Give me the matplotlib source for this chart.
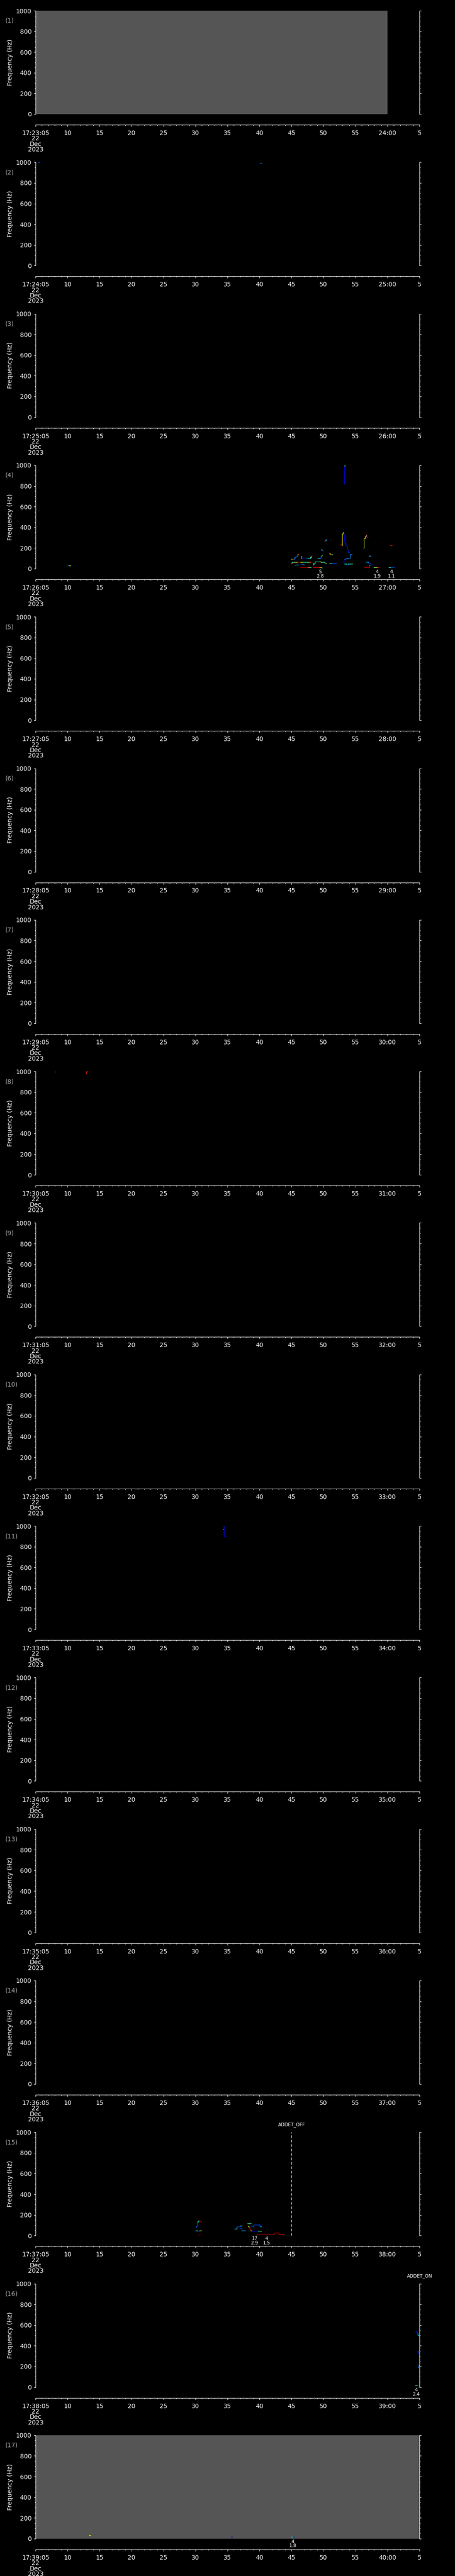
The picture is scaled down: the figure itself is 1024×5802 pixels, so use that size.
import numpy as np
import matplotlib
matplotlib.use('Agg')
import matplotlib.pyplot as plt
from matplotlib.collections import LineCollection
from matplotlib.ticker import MultipleLocator, FixedLocator

# figure geometry (pixels)
W, H, DPI = 1024, 5802, 100
N_PANELS = 17
PANEL_H = 341.3
AX_LEFT, AX_W = 80, 864
AX_TOP, AX_H = 24, 233

# each panel covers one minute, 17:MM:05 -> 17:MM+1:05
start_minutes = list(range(23, 40))
date_lines = ['22', 'Dec', '2023']
sec_ticks = list(range(5, 70, 5))
freq_ticks = [0, 200, 400, 600, 800, 1000]

# grey "no data" spans: (panel, t0, t1)
grey_spans = [(1, 5, 60), (17, 5, 65)]

# event markers: (panel, time, name)
events = [(15, 45.0, 'ADDET_OFF'), (16, 65.0, 'ADDET_ON')]

# event notes under the panel: (panel, time, count, value)
notes = [
    (4, 49.5, '5', '2.8'), (4, 58.4, '4', '1.9'), (4, 60.6, '4', '1.1'),
    (15, 39.24, '17', '2.9'), (15, 41.1, '4', '1.5'),
    (16, 64.47, '4', '2.4'),
    (17, 45.2, '4', '1.8'),
]

# traces: (time edges, frequencies, colour levels 0..1 on jet)
traces_p02 = [
    ([5.4, 5.6], [995], [0.2]),
    ([40.05, 40.37], [993], [0.25]),
]
traces_p04 = [
    ([10.0, 10.25, 10.5], [30, 30], [0.25, 0.65]),
    ([44.95, 45.2, 45.4, 45.6, 45.8, 46.0, 46.11], [95, 95, 105, 115, 125, 140], [0.75, 0.25, 0.25, 0.2, 0.3, 0.8]),
    ([44.95, 45.1, 45.5, 46.0, 46.16], [50, 62, 64, 64], [0.8, 0.4, 0.55, 0.9]),
    ([45.46, 45.6, 46.1], [35, 40], [0.2, 0.3]),
    ([46.46, 46.55, 46.8], [119, 100], [0.38, 0.2]),
    ([47.04, 47.3, 47.6, 47.95, 48.1, 48.2], [97, 100, 97, 110, 126], [0.15, 0.2, 0.38, 0.38, 0.8]),
    ([46.39, 46.8, 47.4, 47.8, 48.0], [66, 66, 66, 66], [0.6, 0.4, 0.55, 0.8]),
    ([46.46, 46.8, 47.0], [43, 40], [0.2, 0.3]),
    ([46.39, 47.5, 47.8, 48.08], [11, 11, 11], [0.95, 0.8, 0.4]),
    ([48.38, 49.4, 49.7, 49.82], [11, 11, 8], [0.9, 0.7, 0.3]),
    ([48.38, 48.5, 48.7, 49.4, 49.6, 50.1, 50.2, 50.5], [40, 55, 67, 67, 62, 66, 57], [0.6, 0.4, 0.4, 0.6, 0.5, 0.4, 0.55]),
    ([49.07, 49.5, 49.6, 49.75, 49.82], [100, 100, 115, 128], [0.38, 0.2, 0.38, 0.55]),
    ([49.63, 49.75, 49.9], [189, 175], [0.3, 0.25]),
    ([50.09, 50.3, 50.4, 50.48], [265, 275, 284], [1.0, 0.3, 0.25]),
    ([50.93, 51.1, 51.3, 51.48], [146, 138, 138], [0.7, 0.75, 0.4]),
    ([50.93, 51.4, 51.6, 51.7, 52.1], [55, 55, 45, 52], [0.4, 0.2, 0.15, 0.2]),
    ([52.64, 52.82, 52.94, 53.0], [240, 227, 337], [0.95, 0.65, 0.65]),
    ([53.06, 53.15, 53.25, 53.35, 53.5, 53.65, 53.78, 53.9, 54.0], [351, 330, 260, 245, 225, 205, 185, 160], [0.55, 0.12, 0.12, 0.15, 0.15, 0.12, 0.15, 0.2]),
    ([53.19, 53.28, 53.29, 53.4], [822, 822, 997], [0.3, 0.12, 0.45]),
    ([53.06, 53.2, 53.45, 53.75, 54.15, 54.45], [65, 90, 100, 102, 140], [0.12, 0.2, 0.3, 0.25, 0.25]),
    ([53.29, 53.6, 53.8, 54.5], [45, 38, 46], [0.38, 0.2, 0.4]),
    ([56.28, 56.34, 56.5, 56.64, 56.76, 56.94], [201, 294, 315, 330, 304], [0.6, 0.6, 0.4, 0.95, 0.95]),
    ([56.41, 57.16, 57.22, 57.64], [11, 36, 39], [0.92, 0.8, 0.2]),
    ([56.64, 56.9, 57.0, 57.34], [62, 62, 55], [0.3, 0.25, 0.2]),
    ([57.18, 57.3, 57.45], [125, 125], [0.65, 0.3]),
    ([57.87, 58.5, 58.85], [11, 11], [0.55, 0.95]),
    ([60.23, 60.55, 61.04], [11, 11], [0.4, 0.2]),
    ([60.46, 60.6, 60.74], [225, 225], [0.8, 0.95]),
]
traces_p08 = [
    ([7.96, 8.05, 8.2], [996, 998], [1.0, 0.85]),
    ([12.87, 12.95, 13.1], [978, 999], [0.85, 0.9]),
]
traces_p11 = [
    ([34.3, 34.42, 34.44, 34.46, 34.5], [972, 995, 997, 897], [0.4, 0.4, 0.12, 0.12]),
]
traces_p15 = [
    ([30.0, 30.12, 30.3, 30.46, 30.7, 30.88], [76, 90, 133, 147, 133], [0.2, 0.2, 0.38, 1.0, 1.0]),
    ([30.0, 30.3, 30.6, 30.88], [47, 45, 47], [0.45, 0.2, 0.6]),
    ([30.0, 30.5, 30.88], [2, 11], [1.0, 1.0]),
    ([36.1, 36.45, 37.0, 37.3], [66, 86, 97], [0.35, 0.2, 0.45]),
    ([37.0, 37.2, 37.8], [70, 50], [0.2, 0.3]),
    ([38.1, 38.7], [116], [0.45]),
    ([38.17, 38.3, 38.45, 38.6, 38.75, 39.8, 40.28], [90, 80, 65, 50, 44, 44], [0.65, 0.85, 0.95, 0.6, 0.15, 0.45]),
    ([38.77, 39.12, 40.1, 40.28], [90, 104, 86], [0.25, 0.2, 0.3]),
    ([38.06, 39.63, 42.36, 42.99, 43.75, 44.84], [2, 14, 26, 14, 2], [0.95, 0.95, 0.95, 0.9, 0.45]),
]
traces_p16 = [
    ([64.35, 64.55, 64.7, 64.85, 65.0], [539, 520, 505, 496], [0.15, 0.2, 0.35, 0.25]),
    ([64.7, 64.8, 64.88], [346, 324], [0.2, 0.15]),
    ([64.79, 64.86, 64.9], [193, 210], [0.25, 0.3]),
    ([64.28, 64.63], [14], [0.4]),
]
traces_p17 = [
    ([13.3, 13.45, 13.6], [34, 34], [0.4, 0.65]),
    ([35.58, 35.74], [17], [0.1]),
    ([45.0, 45.2, 45.42], [17, 17], [0.4, 0.15]),
]
panel_traces = {2: traces_p02, 4: traces_p04, 8: traces_p08, 11: traces_p11,
                15: traces_p15, 16: traces_p16, 17: traces_p17}

GREY = '#555555'
LABEL_GREY = '#aaaaaa'
px = 72.0 / DPI  # one pixel in points


def step_segments(t, f, c):
    # horizontal run at f[k] from t[k] to t[k+1], then jump to f[k+1]
    segs, cols = [], []
    for k in range(len(f)):
        segs.append([(t[k], f[k]), (t[k + 1], f[k])])
        cols.append(c[k])
        if k + 1 < len(f):
            segs.append([(t[k + 1], f[k]), (t[k + 1], f[k + 1])])
            cols.append(c[k])
    return segs, cols


plt.rcParams['font.family'] = ['DejaVu Sans']
fig = plt.figure(figsize=(W / DPI, H / DPI), dpi=DPI, facecolor='black')

for i, minute in enumerate(start_minutes):
    panel = i + 1
    top = AX_TOP + i * PANEL_H
    ax = fig.add_axes([AX_LEFT / W, 1 - (top + AX_H) / H, AX_W / W, AX_H / H])
    ax.set_facecolor('black')
    ax.set_xlim(5, 65)
    ax.set_ylim(0, 1000)

    ax.spines['top'].set_visible(False)
    for sp in ['left', 'right', 'bottom']:
        ax.spines[sp].set_color('white')
        ax.spines[sp].set_linewidth(1.0 * px)
    ax.spines['bottom'].set_position(('outward', 24 * px))

    # y axis
    ax.yaxis.set_major_locator(FixedLocator(freq_ticks))
    ax.yaxis.set_minor_locator(MultipleLocator(50))
    ax.tick_params(axis='y', which='both', direction='out', colors='white',
                   left=True, right=True, labelright=False, width=1.0 * px)
    ax.tick_params(axis='y', which='major', length=4 * px, pad=5 * px, labelsize=10)
    ax.tick_params(axis='y', which='minor', length=2 * px)

    # x axis
    ax.xaxis.set_major_locator(FixedLocator(sec_ticks))
    ax.xaxis.set_minor_locator(MultipleLocator(1))
    ax.tick_params(axis='x', which='both', direction='out', colors='white', width=1.0 * px)
    ax.tick_params(axis='x', which='major', length=4 * px, pad=8 * px, labelsize=10)
    ax.tick_params(axis='x', which='minor', length=2.3 * px)
    labels = []
    for s in sec_ticks:
        if s == 5:
            labels.append('17:%02d:05\n' % minute + '\n'.join(date_lines))
        elif s == 60:
            labels.append('%02d:00' % (minute + 1))
        elif s == 65:
            labels.append('5')
        else:
            labels.append(str(s))
    for lbl in ax.set_xticklabels(labels):
        lbl.set_linespacing(0.85)

    ax.text(-57 / AX_W, 0.5, 'Frequency (Hz)', transform=ax.transAxes, rotation=90,
            ha='center', va='center', color='white', fontsize=10)
    ax.text(-68 / AX_W, (AX_H - 23) / AX_H, '(%d)' % panel, transform=ax.transAxes,
            ha='left', va='center', color=LABEL_GREY, fontsize=10)

    for p, t0, t1 in grey_spans:
        if p == panel:
            ax.axvspan(t0, t1, color=GREY, lw=0, zorder=0)

    for t, f, c in panel_traces.get(panel, []):
        segs, cols = step_segments(t, f, c)
        lc = LineCollection(segs, colors=plt.cm.jet(np.array(cols)), linewidths=0.85,
                            capstyle='projecting', zorder=3)
        ax.add_collection(lc)

    for p, t, name in events:
        if p == panel:
            ax.axvline(t, color='white', lw=1.0 * px, ls=(0, (6, 4)), zorder=4, clip_on=False)
            ax.annotate(name, xy=(t, 1.0), xycoords=('data', 'axes fraction'),
                        xytext=(0, 17 * px), textcoords='offset points',
                        ha='center', va='center', color='white', fontsize=7.5,
                        annotation_clip=False)

    for p, t, n, v in notes:
        if p == panel:
            ax.annotate(n + '\n' + v, xy=(t, 0), xycoords=('data', 'axes fraction'),
                        xytext=(0, -2 * px), textcoords='offset points',
                        ha='center', va='top', color='white', fontsize=7.5,
                        linespacing=0.95, annotation_clip=False)

fig.savefig('out.png', dpi=DPI, facecolor='black')
